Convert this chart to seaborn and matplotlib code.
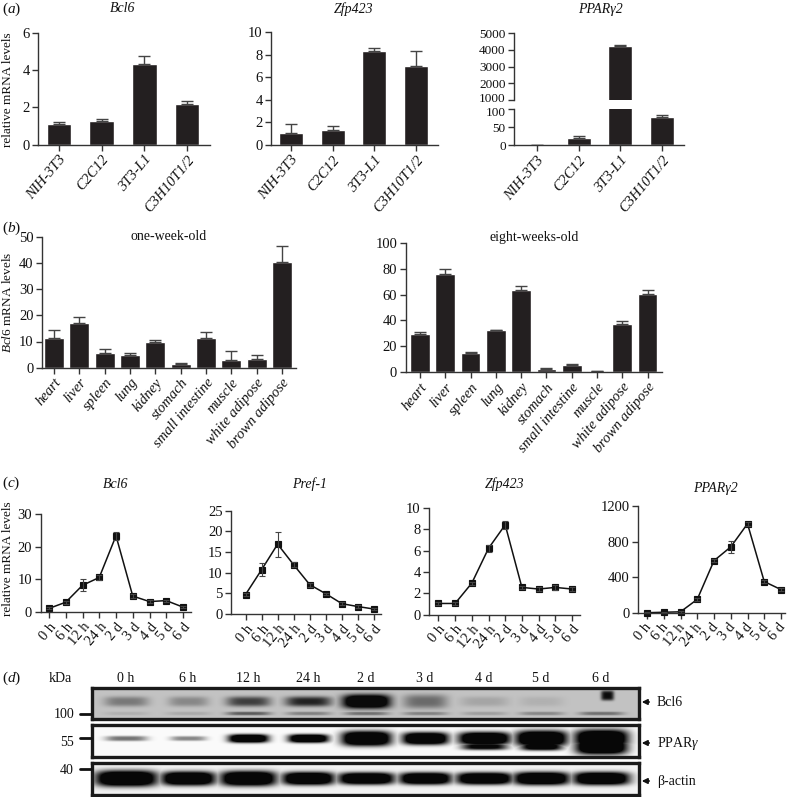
import numpy as np
import pandas as pd
import matplotlib
matplotlib.use("Agg")
import matplotlib.pyplot as plt
import matplotlib.transforms as mtrans
import seaborn as sns

W, H = 787, 797

sns.set_style("ticks")
plt.rcParams['font.family'] = ['Liberation Serif', 'DejaVu Serif']
plt.rcParams['mathtext.fontset'] = 'custom'
plt.rcParams['mathtext.rm'] = 'Liberation Serif'
plt.rcParams['mathtext.it'] = 'Liberation Serif:italic'

DARK = '#231f20'

# panel a
cell_lines = ['NIH-3T3', 'C2C12', '3T3-L1', 'C3H10T1/2']
a_bcl6 = [1.1, 1.25, 4.37, 2.2]
a_bcl6_top = [1.22, 1.38, 4.8, 2.37]
a_zfp = [1.05, 1.35, 8.3, 7.0]
a_zfp_top = [1.87, 1.72, 8.6, 8.3]
a_ppar = [0, 20, 4230, 77]
a_ppar_top = [0, 25, 4270, 83]

# panel b
tissues = ['heart', 'liver', 'spleen', 'lung', 'kidney', 'stomach',
           'small intestine', 'muscle', 'white adipose', 'brown adipose']
b_week1 = [11.5, 17, 5.5, 4.9, 9.7, 1.6, 11.2, 3.1, 3.5, 40.4]
b_week1_top = [14.4, 19.2, 7.2, 5.7, 10.6, 1.8, 13.7, 6.2, 4.8, 46.3]
b_week8 = [29.7, 75.8, 15, 32.3, 63.3, 2.7, 6, 1, 37.2, 60.2]
b_week8_top = [30.8, 80, 15.5, 32.8, 66.3, 3.1, 6.2, 1.3, 39.3, 63.3]

# panel c
times = ['0 h', '6 h', '12 h', '24 h', '2 d', '3 d', '4 d', '5 d', '6 d']
c_bcl6 = [1.1, 3, 8.2, 10.6, 23.4, 4.9, 3.2, 3.5, 1.5]
c_bcl6_err = [0.3, 0.4, 1.8, 0.7, 1.3, 0.5, 0.4, 0.3, 0.4]
c_pref = [4.7, 10.7, 16.9, 11.9, 7.1, 4.9, 2.5, 1.8, 1.2]
c_pref_err = [0.4, 1.6, 3, 0.6, 0.5, 0.3, 0.3, 0.3, 0.3]
c_zfp = [1.05, 1.05, 2.95, 6.2, 8.4, 2.55, 2.4, 2.55, 2.4]
c_zfp_err = [0.1, 0.1, 0.15, 0.35, 0.4, 0.15, 0.15, 0.2, 0.2]
c_ppar = [0, 5, 10, 150, 585, 740, 1000, 350, 260]
c_ppar_err = [5, 5, 10, 15, 20, 70, 25, 20, 20]

# panel d, band darkness per lane
lane_px = [126, 188, 248, 308, 366, 425, 484, 541, 601]
bcl6_main = [0.25, 0.2, 0.45, 0.55, 1.0, 0.3, 0.1, 0.06, 0.0]
bcl6_width = [22, 20, 22, 23, 24, 22, 24, 22, 20]
bcl6_height = [5, 5, 5, 5, 7, 7, 5, 5, 2]
bcl6_low = [0.06, 0.08, 0.35, 0.22, 0.28, 0.22, 0.12, 0.2, 0.28]
ppar_main = [0.35, 0.3, 1, 1, 1, 1, 1, 1, 1]
ppar_width = [21, 18, 20, 20, 25, 23, 26, 26, 27]
ppar_height = [2.6, 2.4, 4.2, 4.2, 7.5, 6.2, 6.5, 8, 9]
ppar_low = [0, 0, 0, 0, 0, 0, 0.7, 0.8, 1]
ppar_low_width = [20, 20, 20, 20, 20, 20, 23, 21, 26]
ppar_low_height = [3, 3, 3, 3, 3, 3, 3.5, 4, 8]
actin_main = [1, 1, 1, 1, 1, 1, 1, 1, 1]
actin_width = [31, 27, 28, 26, 28, 26, 28, 28, 28]
actin_height = [8, 7, 7.5, 6.5, 6, 6, 6, 6.5, 6.5]


def px_axes(left, right, top, bottom):
    return fig.add_axes([left / W, 1 - bottom / H, (right - left) / W, (bottom - top) / H])


def label(x, y, s, **kw):
    kw.setdefault('ha', 'center')
    kw.setdefault('va', 'center')
    kw.setdefault('fontsize', 10.5)
    kw.setdefault('color', '#111111')
    fig.text(x / W, 1 - y / H, s, **kw)


def style(ax, size=10.5):
    sns.despine(ax=ax)
    for s in ['left', 'bottom']:
        ax.spines[s].set_linewidth(1.0)
        ax.spines[s].set_color('#333333')
    ax.patch.set_alpha(0)
    ax.tick_params(axis='both', length=4, width=1, color='#333333', labelsize=size,
                   pad=2, labelcolor='#111111')
    ax.set_xlabel('')
    ax.set_ylabel('')


def rotate_labels(ax, angle, italic=True, size=10.5, dx=0):
    shift = mtrans.ScaledTranslation(dx / 100, 0, fig.dpi_scale_trans)
    for t in ax.get_xticklabels():
        t.set_rotation(angle)
        t.set_ha('right')
        t.set_rotation_mode('anchor')
        t.set_fontsize(size)
        t.set_transform(t.get_transform() + shift)
        if italic:
            t.set_fontstyle('italic')


def bars(ax, cats, vals, tops, first, last, width, size=10.5):
    sns.barplot(x=cats, y=vals, color=DARK, saturation=1, width=width, ax=ax)
    pos = np.arange(len(cats))
    up = np.array(tops) - np.array(vals)
    ax.errorbar(pos, vals, yerr=[np.zeros(len(vals)), up], fmt='none', ecolor='#444444',
                elinewidth=1, capsize=4.2, capthick=1)
    box = ax.get_position()
    left, right = box.x0 * W, box.x1 * W
    step = (last - first) / (len(cats) - 1)
    ax.set_xlim((left - first) / step, (right - first) / step)
    style(ax, size)


def bar_panel(box, cats, vals, tops, first, last, width, ymax, ticks, size=10.5):
    ax = px_axes(*box)
    bars(ax, cats, vals, tops, first, last, width, size)
    ax.set_ylim(0, ymax)
    ax.set_yticks(ticks)
    return ax


def time_panel(box, vals, errs, first, last, ymax, ticks, dx=0):
    ax = px_axes(*box)
    sns.pointplot(x=times, y=vals, color='#111111', markers='s', ax=ax, errorbar=None,
                  markersize=4.5, linewidth=1.1)
    ax.errorbar(np.arange(len(times)), vals, yerr=errs, fmt='none', ecolor='#444444',
                elinewidth=0.8, capsize=2, capthick=0.8)
    step = (last - first) / (len(times) - 1)
    ax.set_xlim((box[0] - first) / step, (box[1] - first) / step)
    ax.set_ylim(0, ymax)
    ax.set_yticks(ticks)
    style(ax)
    for c in ax.collections + ax.lines:
        c.set_clip_on(False)
    rotate_labels(ax, 50, italic=False, size=10.5, dx=dx)
    return ax


def bands(box, lanes, widths, heights, yc):
    # soft blobs with a saturated core, like an over-exposed film
    left, right, top, bottom = box
    rows, cols = int(bottom - top), int(right - left)
    yy, xx = np.mgrid[0:rows, 0:cols]
    dark = np.zeros((rows, cols))
    for cx, level, w, h in zip(lane_px, lanes, widths, heights):
        blob = np.exp(-np.abs((xx - (cx - left)) / w) ** 4 - np.abs((yy - yc) / h) ** 3)
        dark = np.maximum(dark, level * blob)
    return np.clip(1.6 * dark, 0, 1)


def show_blot(box, img):
    ax = px_axes(*box)
    sns.heatmap(img, cmap='gray', vmin=0, vmax=1, cbar=False, ax=ax,
                xticklabels=False, yticklabels=False, rasterized=True)
    for s in ax.spines.values():
        s.set_visible(True)
        s.set_linewidth(2.4)
        s.set_color('#1a1a1a')
    ax.tick_params(length=0)
    return ax


fig = plt.figure(figsize=(W / 100, H / 100), dpi=100)

# (a)
ax = bar_panel((38, 210, 33.3, 144.5), cell_lines, a_bcl6, a_bcl6_top, 59, 187, 0.58, 6, [0, 2, 4, 6])
rotate_labels(ax, 50)
ax = bar_panel((271, 438, 32.3, 145), cell_lines, a_zfp, a_zfp_top, 291, 416, 0.58, 10, [0, 2, 4, 6, 8, 10])
rotate_labels(ax, 50)

ax_low = bar_panel((514, 684, 109, 145.3), cell_lines, a_ppar, a_ppar_top, 537, 662, 0.58, 100, [0, 50, 100], size=9.5)
rotate_labels(ax_low, 50)
ax_up = bar_panel((514, 684, 33, 100), cell_lines, a_ppar, a_ppar_top, 537, 662, 0.58, 5000,
                  [1000, 2000, 3000, 4000, 5000], size=9.5)
ax_up.set_ylim(1000, 5000)
ax_up.spines['bottom'].set_visible(False)
ax_up.tick_params(axis='x', length=0, labelbottom=False)
# 1000 and 100 sit almost on top of each other, ease them apart
for lab, off in [(ax_up.get_yticklabels()[0], 2), (ax_low.get_yticklabels()[-1], -2)]:
    lab.set_transform(lab.get_transform() + mtrans.ScaledTranslation(0, off / 100, fig.dpi_scale_trans))

# (b)
ax = bar_panel((42, 296, 236.7, 367.7), tissues, b_week1, b_week1_top, 54, 282, 0.78, 50, [0, 10, 20, 30, 40, 50])
rotate_labels(ax, 50)
ax = bar_panel((405.5, 661.5, 242.7, 372.3), tissues, b_week8, b_week8_top, 420, 647.5, 0.78, 100, [0, 20, 40, 60, 80, 100])
rotate_labels(ax, 50)

# (c)
time_panel((40.5, 191, 514.3, 612), c_bcl6, c_bcl6_err, 49, 183, 30, [0, 10, 20, 30])
time_panel((231, 381, 510.7, 614), c_pref, c_pref_err, 245.5, 374, 25, [0, 5, 10, 15, 20, 25])
time_panel((429, 580, 507.7, 614.7), c_zfp, c_zfp_err, 438.4, 572, 10, [0, 2, 4, 6, 8, 10])
time_panel((638, 785, 506, 612.7), c_ppar, c_ppar_err, 647, 781, 1200, [0, 400, 800, 1200], dx=-3)

# (d)
box1 = (92, 639, 688, 719)
box2 = (92, 639, 725, 757)
box3 = (92, 639, 763, 795)

d1 = bands(box1, bcl6_main, bcl6_width, bcl6_height, 13)
d1b = bands(box1, bcl6_low, [22] * 9, [1.8] * 9, 25)
yy, xx = np.mgrid[0:31, 0:547]
spot = np.exp(-((xx - 515) / 6.5) ** 4 - ((yy - 7) / 5.0) ** 4)
show_blot(box1, 0.76 - 0.72 * np.maximum(np.maximum(d1, d1b), spot))

d2 = bands(box2, ppar_main, ppar_width, ppar_height, 13)
d2b = bands(box2, ppar_low, ppar_low_width, ppar_low_height, 21)
show_blot(box2, 0.98 - 0.95 * np.maximum(d2, d2b))

d3 = bands(box3, actin_main, actin_width, actin_height, 15)
show_blot(box3, 0.95 - 0.92 * d3)

# kDa markers
for y, s, ty in [(714, '100', 714), (738, '55', 742), (769, '40', 771)]:
    fig.add_artist(plt.Line2D([80 / W, 91 / W], [1 - y / H, 1 - y / H], color='#111111', lw=2))
    label(74, ty, s, ha='right', fontsize=10)
for y, s in [(702, 'Bcl6'), (743, 'PPAR$\\gamma$'), (781, '\u03b2-actin')]:
    fig.add_artist(matplotlib.patches.FancyArrowPatch((652 / W, 1 - y / H), (639 / W, 1 - y / H),
                   transform=fig.transFigure, arrowstyle='-|>', mutation_scale=8, color='#111111', lw=1.2))
    label(657, y, s, ha='left', fontsize=10)
for x, s in zip(lane_px, times):
    label(x, 678, s, fontsize=10)
label(60, 678, 'kDa', fontsize=10)

# texts
for y, s in [(9, 'a'), (228, 'b'), (483, 'c'), (678, 'd')]:
    label(2, y, '($\\mathit{' + s + '}$)', ha='left', fontsize=11)

for x, y, s in [(123, 9, 'Bcl6'), (354, 9, 'Zfp423'), (600, 9, 'PPAR\u03b32'),
                (116, 484, 'Bcl6'), (310, 484, 'Pref-1'), (505, 484, 'Zfp423'), (715, 488, 'PPAR\u03b32')]:
    label(x, y, s, style='italic', fontsize=10)
label(169, 237, 'one-week-old', fontsize=10)
label(534, 237, 'eight-weeks-old', fontsize=10)

label(8, 90, 'relative mRNA levels', rotation=90, fontsize=9.5)
label(8, 302, '$\\mathit{Bcl6}$ mRNA levels', rotation=90, fontsize=9.5)
label(8, 559, 'relative mRNA levels', rotation=90, fontsize=9.5)

plt.savefig('out.png', dpi=100, facecolor='white')
plt.close()
